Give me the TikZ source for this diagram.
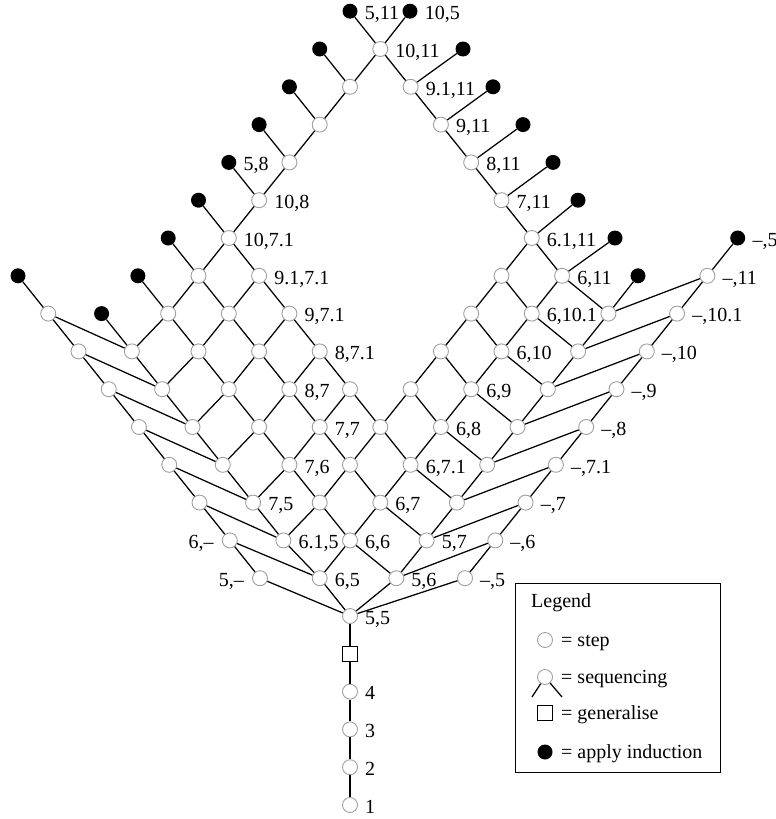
\documentclass[tikz,border=0pt]{standalone}
\usepackage{fontspec}
\setmainfont{Liberation Serif}
\begin{document}
\begin{tikzpicture}[x=1pt,y=-1pt,
  stepnode/.style={circle, draw=gray!75, fill=white, line width=0.9pt, minimum size=15pt, inner sep=0pt},
  indnode/.style={circle, fill=black, minimum size=15pt, inner sep=0pt},
  gensquare/.style={rectangle, draw=black, fill=white, line width=1pt, minimum size=15pt, inner sep=0pt},
  link/.style={line width=1.25pt},
  tfont/.style={font=\fontsize{20}{23}\selectfont},
  labr/.style={tfont, anchor=base west, inner sep=0pt, xshift=7pt, yshift=-8.3pt},
  labl/.style={tfont, anchor=base east, inner sep=0pt, xshift=-8pt, yshift=-8.3pt},
  legtext/.style={tfont, anchor=base west, inner sep=0pt},
]
\useasboundingbox (0,0) rectangle (776,819);

% lattice of proof states (i = first component, j = second component)
\foreach \i in {0,...,7}{
  \foreach \j in {0,...,8}{
    \pgfmathtruncatemacro\inlat{or(or(\i<3,\j<4),or(\i==7,\j==8))}
    \ifnum\inlat=1
      \pgfmathsetmacro\px{350+30.3*(\j-\i)+ifthenelse(and(\i==0,\j>0),16,0)+ifthenelse(and(\j==0,\i>1),-6,0)}
      \pgfmathsetmacro\py{616-37.8*(\i+\j)}
      \node[stepnode] (n\i-\j) at (\px,\py) {};
    \fi
  }
}
\foreach \i in {0,...,7}{
  \foreach \j in {0,...,8}{
    \pgfmathtruncatemacro\inlat{or(or(\i<3,\j<4),or(\i==7,\j==8))}
    \ifnum\inlat=1
      \ifnum\i<7
        \pgfmathtruncatemacro\ia{\i+1}
        \pgfmathtruncatemacro\up{or(or(\ia<3,\j<4),or(\ia==7,\j==8))}
        \ifnum\up=1 \draw[link] (n\i-\j) -- (n\ia-\j); \fi
      \fi
      \ifnum\j<8
        \pgfmathtruncatemacro\ja{\j+1}
        \pgfmathtruncatemacro\up{or(or(\i<3,\ja<4),or(\i==7,\ja==8))}
        \ifnum\up=1 \draw[link] (n\i-\j) -- (n\i-\ja); \fi
      \fi
    \fi
  }
}

% induction leaves on the upper left arm
\foreach \j in {0,...,8}{
  \pgfmathsetmacro\px{350+30.3*(\j-8)+ifthenelse(\j==0,-6,0)}
  \node[indnode] (b\j) at (\px,{616-37.8*(8+\j)}) {};
  \draw[link] (n7-\j) -- (b\j);
}
% induction leaves on the upper right arm
\foreach \i/\rx in {0/638,1/615,2/578,3/553,4/523,5/493,6/463}{
  \node[indnode] (r\i) at (\rx,{616-37.8*(\i+9)}) {};
  \draw[link] (n\i-8) -- (r\i);
}
\node[indnode] (t105) at (410,{616-37.8*16}) {};
\draw[link] (n7-8) -- (t105);

% left column (k,-)
\foreach \k in {0,...,7}{
  \node[stepnode] (c\k) at ({260-30.25*\k},{616-37.8*(\k+1)}) {};
}
\node[indnode] (c8) at ({260-30.25*8},{616-37.8*9}) {};
\foreach \k in {0,...,7}{
  \pgfmathtruncatemacro\ka{\k+1}
  \draw[link] (c\k) -- (c\ka);
  \draw[link] (c\k) -- (n\k-0);
}

% right column (-,k)
\foreach \k in {0,...,8}{
  \node[stepnode] (d\k) at ({465+30.3*\k},{616-37.8*(\k+1)}) {};
}
\node[indnode] (d9) at ({465+30.3*9},{616-37.8*10}) {};
\foreach \k in {0,...,8}{
  \pgfmathtruncatemacro\ka{\k+1}
  \draw[link] (d\k) -- (d\ka);
  \draw[link] (d\k) -- (n0-\k);
}

% initial steps and generalisation
\node[gensquare] (sq) at (350,653.8) {};
\node[stepnode] (s4) at (350,691.6) {};
\node[stepnode] (s3) at (350,729.4) {};
\node[stepnode] (s2) at (350,767.2) {};
\node[stepnode] (s1) at (350,805) {};
\draw[link] (n0-0) -- (sq) -- (s4) -- (s3) -- (s2) -- (s1);

% state labels
\node[labr] at (n0-0.east) {5,5};
\node[labr] at (n1-0.east) {6,5};
\node[labr] at (n0-1.east) {5,6};
\node[labr] at (n1-1.east) {6,6};
\node[labr] at (n2-0.east) {6.1,5};
\node[labr] at (n0-2.east) {5,7};
\node[labr] at (n3-0.east) {7,5};
\node[labr] at (n1-2.east) {6,7};
\node[labr] at (n3-1.east) {7,6};
\node[labr] at (n1-3.east) {6,7.1};
\node[labr] at (n3-2.east) {7,7};
\node[labr] at (n1-4.east) {6,8};
\node[labr] at (n4-2.east) {8,7};
\node[labr] at (n1-5.east) {6,9};
\node[labr] at (n4-3.east) {8,7.1};
\node[labr] at (n1-6.east) {6,10};
\node[labr] at (n5-3.east) {9,7.1};
\node[labr] at (n1-7.east) {6,10.1};
\node[labr] at (n6-3.east) {9.1,7.1};
\node[labr] at (n1-8.east) {6,11};
\node[labr] at (n7-3.east) {10,7.1};
\node[labr] at (n2-8.east) {6.1,11};
\node[labr] at (n7-4.east) {10,8};
\node[labr] at (n3-8.east) {7,11};
\node[labr] at (n4-8.east) {8,11};
\node[labr] at (n5-8.east) {9,11};
\node[labr] at (n6-8.east) {9.1,11};
\node[labr] at (n7-8.east) {10,11};
\node[labr] at (b4.east) {5,8};
\node[labr] at (b8.east) {5,11};
\node[labr] at (t105.east) {10,5};
\node[labr] at (d9.east) {–,5};
\node[labl] at (c0.west) {5,–};
\node[labl] at (c1.west) {6,–};
\node[labr] at (d0.east) {–,5};
\node[labr] at (d1.east) {–,6};
\node[labr] at (d2.east) {–,7};
\node[labr] at (d3.east) {–,7.1};
\node[labr] at (d4.east) {–,8};
\node[labr] at (d5.east) {–,9};
\node[labr] at (d6.east) {–,10};
\node[labr] at (d7.east) {–,10.1};
\node[labr] at (d8.east) {–,11};
\node[labr] at (s4.east) {4};
\node[labr] at (s3.east) {3};
\node[labr] at (s2.east) {2};
\node[labr] at (s1.east) {1};

% legend
\node[draw=black, line width=0.9pt, minimum width=205pt, minimum height=189pt, inner sep=0pt, anchor=north west] (legend) at (515,583) {};
\node[legtext] (lg-title) at (531,607) {Legend};
\node[stepnode] (lg-step) at (545,640) {};
\node[legtext] (lg-step-t) at (561,646) {= step};
\node[stepnode] (lg-seq) at (545,677) {};
\coordinate (lg-seqL) at (532,697);
\coordinate (lg-seqR) at (562,697);
\draw[link] (lg-seq) -- (lg-seqL);
\draw[link] (lg-seq) -- (lg-seqR);
\node[legtext] (lg-seq-t) at (561,683) {= sequencing};
\node[gensquare] (lg-gen) at (545,713) {};
\node[legtext] (lg-gen-t) at (561,719) {= generalise};
\node[indnode] (lg-ind) at (545,752) {};
\node[legtext] (lg-ind-t) at (561,758) {= apply induction};
\end{tikzpicture}
\end{document}
